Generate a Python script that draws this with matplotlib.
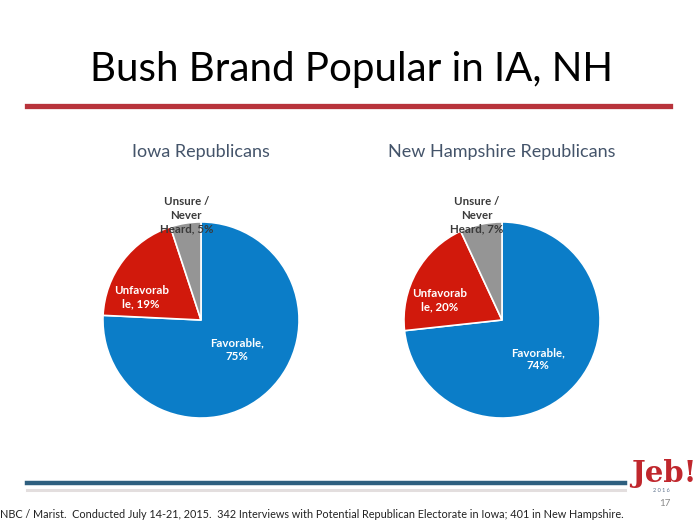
import matplotlib.pyplot as plt
from matplotlib.lines import Line2D

plt.rcParams['font.family'] = ['Lato', 'DejaVu Sans']

title = 'Bush Brand Popular in IA, NH'
states = ['Iowa Republicans', 'New Hampshire Republicans']
labels = ['Favorable', 'Unfavorab\nle', 'Unsure /\nNever\nHeard']
iowa = [75, 19, 5]
nh = [74, 20, 7]
colors = ['#0b7dc8', '#d1190c', '#959595']
note = ('NBC / Marist.  Conducted July 14-21, 2015.  342 Interviews with Potential '
        'Republican Electorate in Iowa; 401 in New Hampshire.')

# label positions inside each pie (data units, radius = 1)
label_pos = [
    [(0.37, -0.30), (-0.61, 0.23), (-0.15, 1.07)],
    [(0.37, -0.40), (-0.64, 0.20), (-0.26, 1.07)],
]
label_sep = [',\n', ', ', ', ']
label_col = ['white', 'white', '#3a3a3a']

W, H = 700, 525
fig = plt.figure(figsize=(7, 5.25), dpi=100)

def fx(x):
    return x / W

def fy(y):
    return 1 - y / H

fig.text(fx(352), fy(70), title, ha='center', va='center', fontsize=29, color='black')
fig.add_artist(Line2D([fx(27), fx(670)], [fy(106), fy(106)], color='#b8333b', lw=3.8))

centers = [201, 502]
for i, vals in enumerate([iowa, nh]):
    cx = centers[i]
    fig.text(fx(cx), fy(152), states[i], ha='center', va='center', fontsize=13, color='#44546a')
    ax = fig.add_axes([fx(cx - 100), fy(420), 200 / W, 200 / H])
    ax.pie(vals, colors=colors, startangle=90, counterclock=False,
           wedgeprops=dict(edgecolor='white', linewidth=1.2))
    ax.set_xlim(-1.02, 1.02)
    ax.set_ylim(-1.02, 1.02)
    ax.set_aspect('equal')
    ax.axis('off')
    for j, v in enumerate(vals):
        x, y = label_pos[i][j]
        ax.text(x, y, '%s%s%d%%' % (labels[j], label_sep[j], v), ha='center', va='center',
                fontsize=8.3, fontweight='bold', color=label_col[j], clip_on=False,
                linespacing=1.25)

fig.add_artist(Line2D([fx(27), fx(625)], [fy(483), fy(483)], color='#2e5f7f', lw=3.2))
fig.add_artist(Line2D([fx(27), fx(625)], [fy(490), fy(490)], color='#e3dede', lw=2.2))

fig.text(fx(0), fy(514), note, ha='left', va='center', fontsize=7.8, color='#222222')

fig.text(fx(664), fy(473), 'Jeb!', ha='center', va='center', fontsize=21,
         fontweight='bold', family='DejaVu Serif', color='#c0272d')
fig.text(fx(661), fy(491), '2 0 1 6', ha='center', va='center', fontsize=4, color='#5a6f8a')
fig.text(fx(665), fy(504), '17', ha='center', va='center', fontsize=7, color='#8a8a8a')

fig.savefig('out.png', dpi=100)
